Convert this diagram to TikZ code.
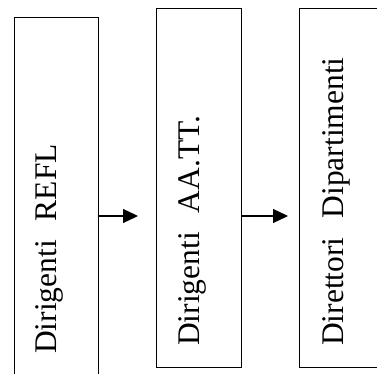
\documentclass[tikz,border=0pt]{standalone}
\usepackage{fontspec}
\setmainfont{Liberation Serif}
\usetikzlibrary{arrows.meta}

\begin{document}
\begin{tikzpicture}[x=1pt,y=-1pt,
    box/.style={draw,line width=1.3pt,inner sep=0pt,anchor=north west,minimum height=359pt},
    lbl/.style={rotate=90,anchor=base west,inner sep=0pt,font=\fontsize{31.5}{38}\selectfont},
    >={Triangle[length=15pt,width=14pt]}]
  \clip (0,0) rectangle (377,374);
  \node[box,minimum width=84pt,minimum height=380pt] (reflbox) at (14,17) {};
  \node[box,minimum width=85pt] (aattbox) at (156,8) {};
  \node[box,minimum width=90pt] (diparbox) at (299,8) {};
  \node[lbl] (refl) at (56,354) {Dirigenti\hspace{0.6em}REFL};
  \node[lbl] (aatt) at (199,346) {Dirigenti\hspace{0.6em}AA.TT.};
  \node[lbl] (dipar) at (343,346) {Direttori\hspace{0.6em}Dipartimenti};
  \coordinate (mid) at (0,216);
  \draw[->,line width=1.3pt] (reflbox.east |- mid) -- ([xshift=-18pt]aattbox.west |- mid);
  \draw[->,line width=1.3pt] (aattbox.east |- mid) -- ([xshift=-11pt]diparbox.west |- mid);
\end{tikzpicture}
\end{document}
